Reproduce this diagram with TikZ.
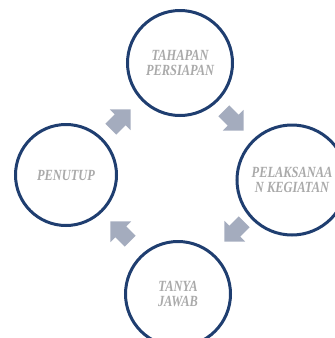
\documentclass[tikz,border=0pt]{standalone}
\usepackage{fontspec}
\newfontfamily\stagefont{Liberation Serif}[FakeStretch=0.8]
\usetikzlibrary{shapes.arrows}
\definecolor{ringblue}{RGB}{31,62,112}
\definecolor{arrowgray}{RGB}{164,172,190}
\definecolor{labelgray}{RGB}{170,170,170}

\tikzset{
  stage/.style={circle, draw=ringblue, line width=3pt, minimum size=105pt, inner sep=0pt,
    fill=white, align=center, text=labelgray,
    font=\stagefont\fontsize{15.5}{14.5}\selectfont\bfseries\itshape},
  flow/.style={single arrow, fill=arrowgray, inner xsep=0pt, inner ysep=7.5pt,
    minimum height=28pt, single arrow head extend=7pt, single arrow head indent=0pt}
}

\begin{document}
\begin{tikzpicture}[x=1pt, y=-1pt]
  \useasboundingbox (0,0) rectangle (335,338);
  \clip (0,0) rectangle (335,338);

  % Stages of the cycle
  \node[stage] (prep) at (180,63) {TAHAPAN\\PERSIAPAN};
  \node[stage, minimum size=110pt] (exec) at (292,180) {PELAKSANAA\\N KEGIATAN};
  \node[stage, minimum size=101pt] (close) at (66,175) {PENUTUP};
  \node[stage] (qna) at (178,294) {TANYA\\JAWAB};

  % Block arrows between the stages
  \node[flow, rotate=-45] (a1) at (231,118) {};
  \node[flow, rotate=-135] (a2) at (237,229) {};
  \node[flow, rotate=135] (a3) at (123,234) {};
  \node[flow, rotate=45] (a4) at (118,122) {};
\end{tikzpicture}
\end{document}
